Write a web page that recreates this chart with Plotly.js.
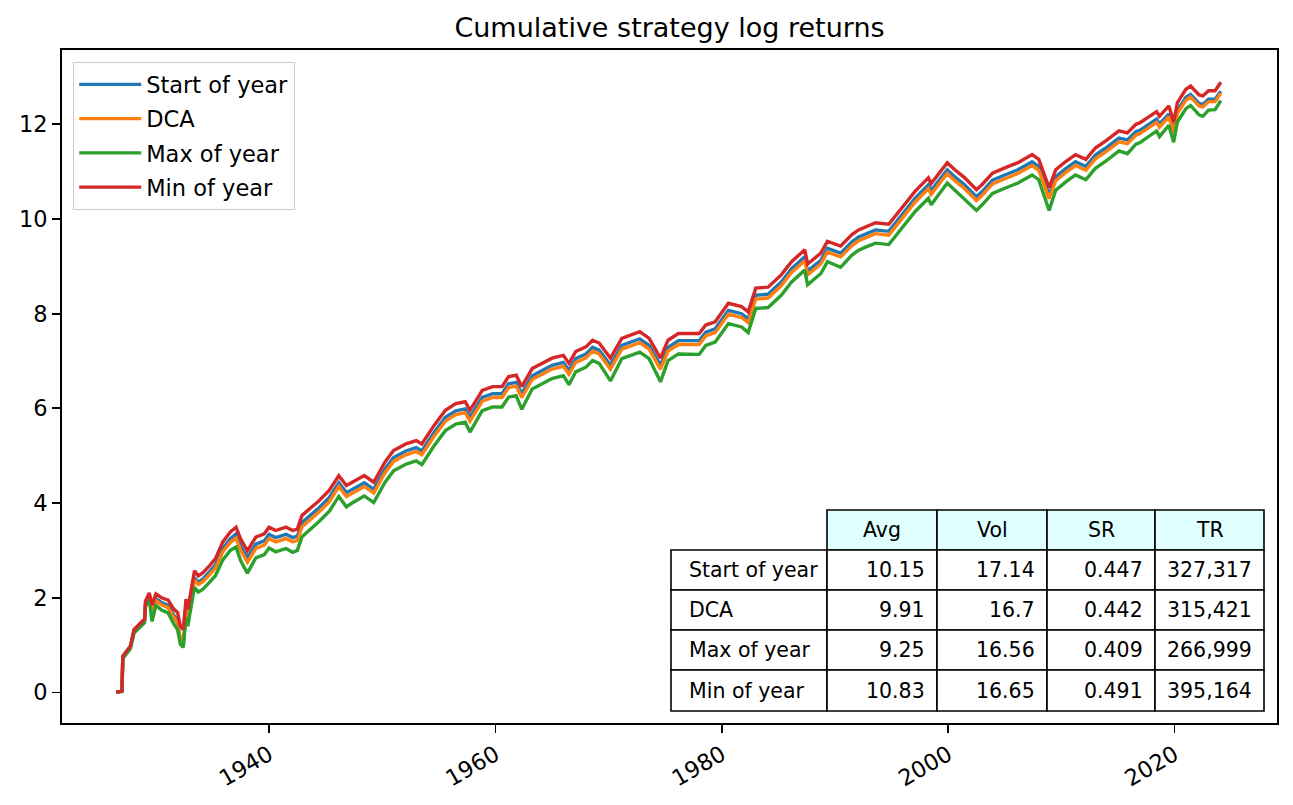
<!DOCTYPE html>
<html>
<head>
<meta charset="utf-8">
<script src="https://cdn.plot.ly/plotly-3.0.1.min.js"></script>
<style>html,body{margin:0;padding:0;background:#fff;}#chart{width:1293px;height:805px;}</style>
</head>
<body>
<div id="chart"></div>
<script>
const dates = [
'1926-07','1927-01','1927-02','1927-10','1928-02','1929-01','1929-02','1929-06','1929-09','1930-01',
'1930-07','1931-02','1931-08','1931-12','1932-03','1932-06','1932-09','1932-11','1933-01','1933-06',
'1933-10','1934-03','1934-10','1935-04','1935-12','1936-08','1937-02','1937-07','1938-02','1938-11',
'1939-08','1940-01','1940-08','1941-07','1942-02','1942-07','1942-12','1943-11','1944-06','1945-05',
'1946-03','1946-11','1947-05','1948-06','1949-04','1950-04','1951-01','1952-02','1953-01','1953-07',
'1954-08','1955-08','1956-07','1957-05','1957-10','1958-11','1959-10','1960-08','1961-03','1961-11',
'1962-05','1963-04','1965-01','1966-01','1966-07','1967-02','1968-01','1968-08','1969-03','1970-03',
'1971-03','1972-10','1973-08','1974-08','1975-04','1976-03','1978-01','1978-08','1979-06','1980-08',
'1981-10','1982-05','1983-01','1984-02','1985-04','1986-03','1987-05','1987-08','1988-10','1989-05',
'1990-07','1991-07','1992-02','1992-10','1993-08','1994-10','1995-12','1997-02','1998-04','1998-07',
'1999-12','2000-08','2001-06','2002-07','2003-01','2003-12','2005-01','2006-03','2007-06','2008-01',
'2008-12','2009-07','2010-06','2011-04','2012-03','2013-01','2013-12','2015-02','2015-11','2016-08',
'2016-12','2017-10','2018-06','2018-09','2019-07','2019-12','2020-04','2021-01','2021-06','2022-03',
'2022-07','2023-01','2023-08','2024-02'];

const startOfYear = [
0.00,0.03,0.76,0.97,1.32,1.53,1.90,2.05,1.77,1.98,
1.90,1.84,1.63,1.52,1.08,0.97,1.72,1.55,1.82,2.42,
2.33,2.40,2.55,2.69,3.04,3.25,3.35,3.09,2.84,3.13,
3.20,3.34,3.27,3.34,3.27,3.30,3.59,3.77,3.90,4.12,
4.43,4.22,4.29,4.43,4.29,4.72,4.96,5.10,5.17,5.10,
5.49,5.81,5.95,5.99,5.81,6.23,6.31,6.31,6.52,6.55,
6.31,6.69,6.91,6.97,6.80,7.05,7.15,7.29,7.23,6.91,
7.33,7.47,7.33,6.91,7.29,7.43,7.43,7.61,7.68,8.07,
8.00,7.89,8.39,8.41,8.67,8.95,9.20,8.90,9.13,9.38,
9.28,9.52,9.62,9.69,9.77,9.74,10.08,10.44,10.72,10.60,
11.04,10.89,10.73,10.47,10.58,10.82,10.93,11.04,11.21,11.11,
10.51,10.89,11.07,11.21,11.11,11.35,11.50,11.71,11.67,11.85,
11.87,12.01,12.11,12.01,12.22,11.88,12.29,12.57,12.63,12.44,
12.42,12.53,12.53,12.70];

const dca = [
0.00,0.03,0.75,0.95,1.30,1.51,1.87,2.02,1.73,1.94,
1.85,1.79,1.58,1.47,1.12,1.05,1.74,1.56,1.80,2.38,
2.28,2.34,2.49,2.62,2.97,3.17,3.26,3.00,2.75,3.04,
3.11,3.25,3.18,3.25,3.18,3.21,3.50,3.68,3.81,4.03,
4.35,4.14,4.21,4.35,4.21,4.64,4.88,5.02,5.09,5.02,
5.41,5.73,5.87,5.91,5.73,6.15,6.23,6.23,6.44,6.47,
6.23,6.61,6.83,6.89,6.72,6.97,7.07,7.21,7.15,6.83,
7.25,7.39,7.25,6.83,7.21,7.35,7.35,7.53,7.60,7.99,
7.92,7.81,8.31,8.33,8.59,8.87,9.12,8.82,9.05,9.30,
9.20,9.44,9.54,9.61,9.69,9.66,10.00,10.36,10.64,10.52,
10.96,10.81,10.65,10.39,10.50,10.74,10.85,10.96,11.13,11.03,
10.43,10.81,10.99,11.13,11.03,11.27,11.42,11.63,11.59,11.77,
11.80,11.94,12.04,11.94,12.16,11.82,12.23,12.51,12.58,12.39,
12.37,12.48,12.48,12.66];

const maxOfYear = [
0.00,0.02,0.72,0.92,1.26,1.47,1.82,1.95,1.50,1.84,
1.74,1.68,1.45,1.33,1.02,0.95,1.58,1.40,1.66,2.22,
2.12,2.18,2.33,2.46,2.80,3.00,3.07,2.78,2.52,2.84,
2.91,3.05,2.97,3.04,2.96,3.00,3.29,3.48,3.61,3.83,
4.14,3.92,4.00,4.15,4.01,4.44,4.68,4.82,4.89,4.81,
5.21,5.53,5.67,5.71,5.50,5.95,6.03,6.03,6.24,6.27,
5.98,6.41,6.63,6.69,6.50,6.77,6.87,7.01,6.95,6.58,
7.05,7.19,7.05,6.56,7.01,7.15,7.14,7.33,7.40,7.79,
7.72,7.60,8.11,8.13,8.39,8.67,8.92,8.61,8.85,9.10,
8.98,9.24,9.34,9.41,9.49,9.46,9.80,10.16,10.44,10.30,
10.76,10.61,10.42,10.18,10.30,10.54,10.65,10.76,10.93,10.83,
10.18,10.61,10.79,10.93,10.83,11.07,11.22,11.44,11.38,11.58,
11.61,11.76,11.86,11.74,11.98,11.62,12.05,12.33,12.40,12.20,
12.17,12.30,12.31,12.50];

const minOfYear = [
0.00,0.03,0.77,0.98,1.33,1.55,1.93,2.10,1.85,2.08,
2.00,1.95,1.76,1.69,1.40,1.33,1.97,1.75,2.00,2.57,
2.46,2.53,2.68,2.82,3.18,3.39,3.49,3.24,2.99,3.28,
3.35,3.49,3.42,3.49,3.42,3.45,3.74,3.92,4.05,4.27,
4.58,4.37,4.44,4.58,4.44,4.87,5.11,5.25,5.32,5.25,
5.64,5.96,6.10,6.14,5.96,6.38,6.46,6.46,6.67,6.70,
6.46,6.84,7.06,7.12,6.95,7.20,7.30,7.44,7.38,7.06,
7.48,7.62,7.48,7.06,7.44,7.58,7.58,7.76,7.83,8.22,
8.15,8.04,8.54,8.56,8.82,9.10,9.35,9.05,9.28,9.53,
9.43,9.67,9.77,9.84,9.92,9.89,10.23,10.59,10.87,10.75,
11.19,11.04,10.88,10.62,10.73,10.97,11.08,11.19,11.36,11.26,
10.66,11.04,11.22,11.36,11.26,11.50,11.65,11.86,11.82,12.00,
12.03,12.17,12.27,12.17,12.39,12.05,12.46,12.74,12.81,12.62,
12.60,12.71,12.71,12.89];

const seriesNames = ['Start of year', 'DCA', 'Max of year', 'Min of year'];

// summary table
const tableColumns = ['Avg', 'Vol', 'SR', 'TR'];
const tableRows = ['Start of year', 'DCA', 'Max of year', 'Min of year'];
const avgValues = [10.15, 9.91, 9.25, 10.83];
const volValues = [17.14, 16.7, 16.56, 16.65];
const srValues = [0.447, 0.442, 0.409, 0.491];
const trValues = [327317, 315421, 266999, 395164];

const FONT = 'DejaVu Sans, Liberation Sans, sans-serif';
const colors = ['#1f77b4', '#ff7f0e', '#2ca02c', '#d62728'];
const seriesValues = [startOfYear, dca, maxOfYear, minOfYear];

const traces = seriesValues.map((vals, i) => ({
  type: 'scatter', mode: 'lines', x: dates, y: vals, name: seriesNames[i],
  legendgroup: 'g' + i,
  line: {color: colors[i], width: 3.4}
}));

// plot area geometry (pixels)
const W = 1293, H = 805;
const L = 62, R = 1277, T = 50, B = 723;
const fx = px => (px - L) / (R - L);
const fy = py => (B - py) / (B - T);

const colEdges = [671, 827, 937, 1047, 1155, 1264];
const rowEdges = [510, 550, 590, 630, 670, 711];

const shapes = [];
const annotations = [];
const cellFont = {family: FONT, size: 20.5, color: '#000'};

// header
for (let c = 0; c < tableColumns.length; c++) {
  shapes.push({type: 'rect', xref: 'paper', yref: 'paper', layer: 'above',
    x0: fx(colEdges[c + 1]), x1: fx(colEdges[c + 2]), y0: fy(rowEdges[1]), y1: fy(rowEdges[0]),
    fillcolor: '#e0ffff', line: {color: '#000', width: 1.6}});
  annotations.push({xref: 'paper', yref: 'paper', showarrow: false,
    x: fx((colEdges[c + 1] + colEdges[c + 2]) / 2), y: fy((rowEdges[0] + rowEdges[1]) / 2),
    xanchor: 'center', yanchor: 'middle', text: tableColumns[c], font: cellFont});
}
const fmt = [v => String(v), v => String(v), v => String(v), v => v.toLocaleString('en-US')];
const cols = [avgValues, volValues, srValues, trValues];
for (let r = 0; r < tableRows.length; r++) {
  const y0 = fy(rowEdges[r + 2]), y1 = fy(rowEdges[r + 1]);
  const ym = fy((rowEdges[r + 1] + rowEdges[r + 2]) / 2);
  for (let c = 0; c < 5; c++) {
    shapes.push({type: 'rect', xref: 'paper', yref: 'paper', layer: 'above',
      x0: fx(colEdges[c]), x1: fx(colEdges[c + 1]), y0: y0, y1: y1,
      fillcolor: '#ffffff', line: {color: '#000', width: 1.6}});
  }
  annotations.push({xref: 'paper', yref: 'paper', showarrow: false,
    x: fx(colEdges[0] + 16), y: ym, xanchor: 'left', yanchor: 'middle',
    text: tableRows[r], font: cellFont});
  for (let c = 0; c < 4; c++) {
    annotations.push({xref: 'paper', yref: 'paper', showarrow: false,
      x: fx(colEdges[c + 2] - 10), y: ym, xanchor: 'right', yanchor: 'middle',
      text: fmt[c](cols[c][r]), font: cellFont});
  }
}

const axisCommon = {
  showline: true, linecolor: '#000', linewidth: 1.8, mirror: true,
  ticks: 'outside', ticklen: 8, tickwidth: 1.8, tickcolor: '#000',
  showgrid: false, zeroline: false,
  tickfont: {family: FONT, size: 22.5, color: '#000'}
};

const layout = {
  width: W, height: H,
  margin: {l: L, r: W - R, t: T, b: H - B, pad: 0},
  paper_bgcolor: '#fff', plot_bgcolor: '#fff',
  title: {text: 'Cumulative strategy log returns', font: {family: FONT, size: 27, color: '#000'},
    x: 0.5, xref: 'paper', xanchor: 'center', y: 1 - 28 / H, yref: 'container', yanchor: 'middle'},
  xaxis: Object.assign({}, axisCommon, {
    type: 'date', range: ['1921-09-16', '2029-01-18'],
    tick0: '1940-01-01', dtick: 'M240', tickformat: '%Y', tickangle: -30
  }),
  yaxis: Object.assign({}, axisCommon, {
    range: [-0.646, 13.57], tick0: 0, dtick: 2
  }),
  showlegend: true,
  legend: {x: fx(73), y: fy(62), xanchor: 'left', yanchor: 'top',
    bgcolor: 'rgba(255,255,255,0.8)', bordercolor: '#cccccc', borderwidth: 1.2,
    font: {family: FONT, size: 22.5, color: '#000'}, tracegroupgap: 2, traceorder: 'grouped',
    itemwidth: 62},
  shapes: shapes,
  annotations: annotations,
  hovermode: false
};

Plotly.newPlot('chart', traces, layout, {displayModeBar: false, staticPlot: true});
</script>
</body>
</html>
